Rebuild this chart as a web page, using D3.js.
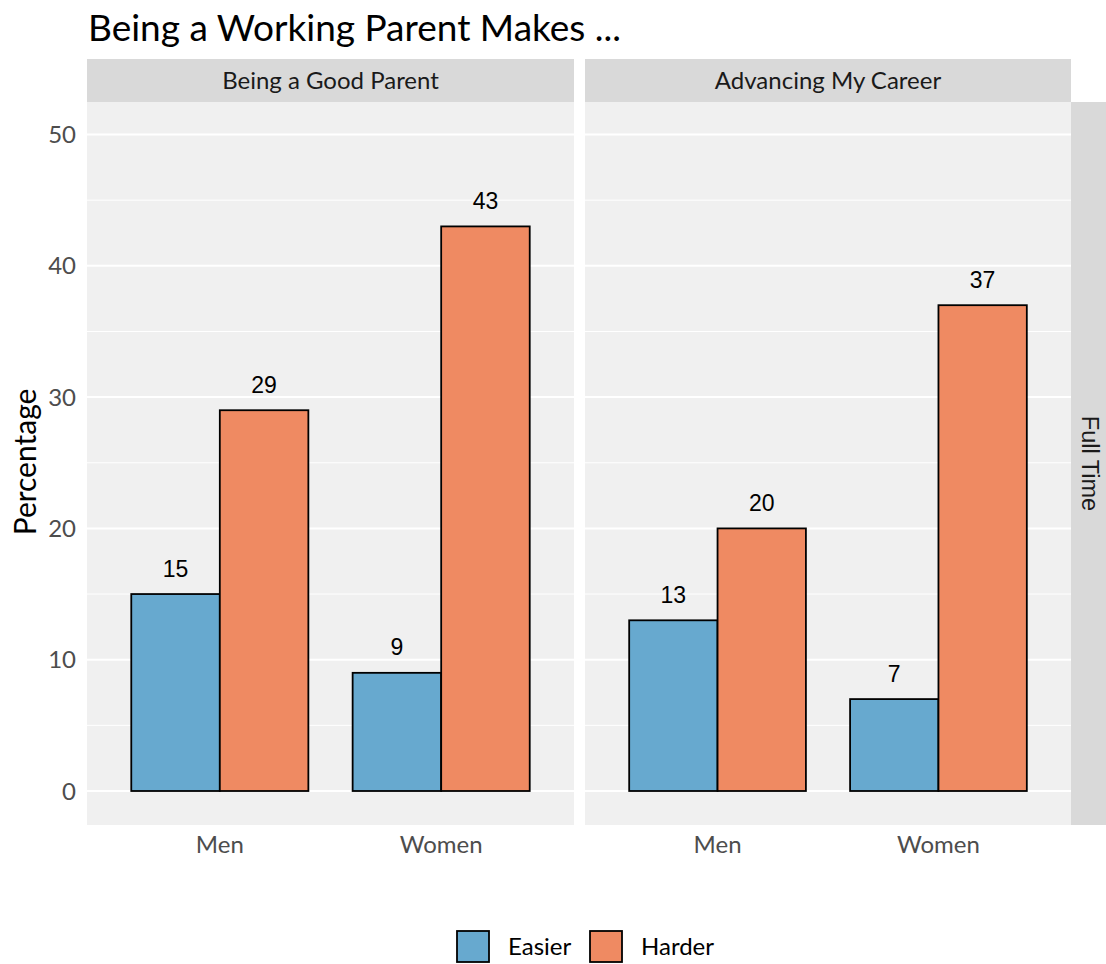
<!DOCTYPE html>
<html><head><meta charset="utf-8">
<script src="https://cdn.jsdelivr.net/npm/d3@7"></script>
<style>body{margin:0;background:#fff}svg{display:block}</style>
</head><body>
<script>
const facets = ["Being a Good Parent", "Advancing My Career"];
const groups = ["Men", "Women"];
const series = ["Easier", "Harder"];
const easierValues = [[15, 9], [13, 7]];
const harderValues = [[29, 43], [20, 37]];
const yTicks = [0, 10, 20, 30, 40, 50];
const yMinor = [5, 15, 25, 35, 45];
const rowLabel = "Full Time";
const colors = ["#67a9cf", "#ef8a62"];

const W = 1106, H = 964;
const svg = d3.select("body").append("svg").attr("width", W).attr("height", H);
const sans = "Lato, 'Gill Sans', sans-serif";
const arial = "'Liberation Sans', Arial, Helvetica, sans-serif";

const panelTop = 102, panelBottom = 825, stripTop = 59;
const panelX = [[87, 574], [585, 1071]];
const y = d3.scaleLinear().domain([0, 50]).range([791, 134.5]);

svg.append("text").attr("x", 88).attr("y", 41).attr("font-family", sans)
  .attr("font-size", 37).attr("fill", "#000").text("Being a Working Parent Makes ...");

facets.forEach((f, fi) => {
  const [x0, x1] = panelX[fi];
  const g = svg.append("g");
  g.append("rect").attr("x", x0).attr("y", panelTop).attr("width", x1 - x0)
    .attr("height", panelBottom - panelTop).attr("fill", "#f0f0f0");
  g.append("rect").attr("x", x0).attr("y", stripTop).attr("width", x1 - x0)
    .attr("height", panelTop - stripTop).attr("fill", "#d9d9d9");
  g.append("text").attr("x", (x0 + x1) / 2).attr("y", 89).attr("text-anchor", "middle")
    .attr("font-family", sans).attr("font-size", 24).attr("fill", "#1a1a1a").text(f);
  yMinor.forEach(v => g.append("line").attr("x1", x0).attr("x2", x1)
    .attr("y1", y(v)).attr("y2", y(v)).attr("stroke", "#fff").attr("stroke-width", 1));
  yTicks.forEach(v => g.append("line").attr("x1", x0).attr("x2", x1)
    .attr("y1", y(v)).attr("y2", y(v)).attr("stroke", "#fff").attr("stroke-width", 2));

  const x = d3.scalePoint().domain(groups).range([x0, x1]).padding(0.6);
  const bw = x.step() * 0.8;
  const xs = d3.scaleBand().domain(series).range([-bw / 2, bw / 2]);
  const data = [];
  groups.forEach((gr, gi) => {
    data.push({g: gr, s: "Easier", v: easierValues[fi][gi]});
    data.push({g: gr, s: "Harder", v: harderValues[fi][gi]});
  });
  g.selectAll("rect.bar").data(data).enter().append("rect").attr("class", "bar")
    .attr("x", d => x(d.g) + xs(d.s)).attr("width", xs.bandwidth())
    .attr("y", d => y(d.v)).attr("height", d => y(0) - y(d.v))
    .attr("fill", d => colors[series.indexOf(d.s)]).attr("stroke", "#000").attr("stroke-width", 1.8);
  g.selectAll("text.lab").data(data).enter().append("text").attr("class", "lab")
    .attr("x", d => x(d.g) + xs(d.s) + xs.bandwidth() / 2).attr("y", d => y(d.v) - 17.5)
    .attr("text-anchor", "middle").attr("font-family", arial).attr("font-size", 23)
    .attr("fill", "#000").text(d => d.v);
  groups.forEach(gr => g.append("text").attr("x", x(gr)).attr("y", 853)
    .attr("text-anchor", "middle").attr("font-family", sans).attr("font-size", 24)
    .attr("fill", "#4d4d4d").text(gr));
});

// right strip
svg.append("rect").attr("x", 1071).attr("y", panelTop).attr("width", 35)
  .attr("height", panelBottom - panelTop).attr("fill", "#d9d9d9");
svg.append("text").attr("transform", `translate(1082,${(panelTop + panelBottom) / 2}) rotate(90)`)
  .attr("text-anchor", "middle").attr("font-family", arial).attr("font-size", 23.5)
  .attr("fill", "#1a1a1a").text(rowLabel);

// y axis labels
yTicks.forEach(v => svg.append("text").attr("x", 76).attr("y", y(v) + 8.5)
  .attr("text-anchor", "end").attr("font-family", sans).attr("font-size", 24)
  .attr("fill", "#4d4d4d").text(v));
svg.append("text").attr("transform", `translate(36,462) rotate(-90)`)
  .attr("text-anchor", "middle").attr("font-family", sans).attr("font-size", 30)
  .attr("fill", "#000").text("Percentage");

// legend
const legX = [456, 589];
series.forEach((s, i) => {
  svg.append("rect").attr("x", legX[i] + 1).attr("y", 931).attr("width", 32).attr("height", 31)
    .attr("fill", colors[i]).attr("stroke", "#000").attr("stroke-width", 1.8);
  svg.append("text").attr("x", legX[i] + 52).attr("y", 955).attr("font-family", sans)
    .attr("font-size", 24).attr("fill", "#000").text(s);
});
</script>
</body></html>
